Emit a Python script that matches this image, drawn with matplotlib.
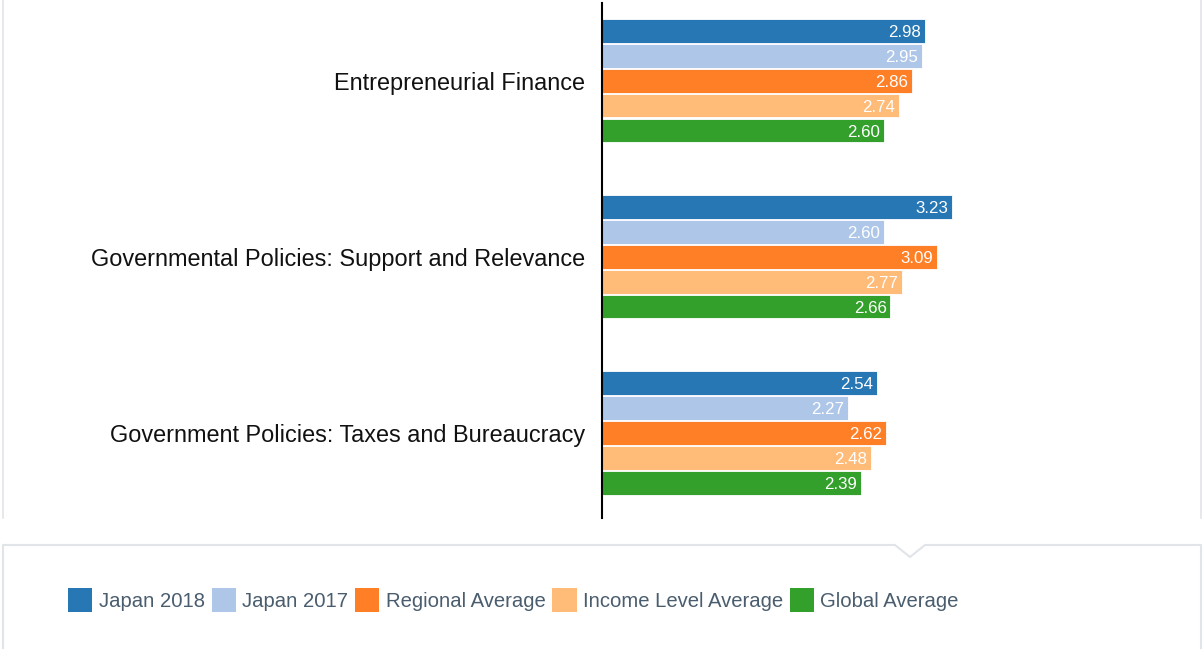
import matplotlib
matplotlib.use("Agg")
import matplotlib.pyplot as plt
from matplotlib.patches import Patch
from matplotlib.lines import Line2D

# data
categories = ["Entrepreneurial Finance",
              "Governmental Policies: Support and Relevance",
              "Government Policies: Taxes and Bureaucracy"]
series_names = ["Japan 2018", "Japan 2017", "Regional Average",
                "Income Level Average", "Global Average"]
japan_2018 = [2.98, 3.23, 2.54]
japan_2017 = [2.95, 2.60, 2.27]
regional_avg = [2.86, 3.09, 2.62]
income_avg = [2.74, 2.77, 2.48]
global_avg = [2.60, 2.66, 2.39]
colors = ["#2677b4", "#aec7e8", "#ff7f27", "#ffbb78", "#33a02c"]

plt.rcParams['font.family'] = ['Liberation Sans', 'DejaVu Sans']

W, H = 1204, 649
fig = plt.figure(figsize=(W / 100, H / 100), dpi=100)

def fx(px):
    return px / W

def fy(py):
    return 1 - py / H

# main axes: x from axis line (602) to the right edge, y from 3 to 518 px
ax = fig.add_axes([fx(602), fy(518), fx(W - 602), (518 - 3) / H])
ax.set_xlim(0, (W - 602) / 108.4)
ax.set_ylim(2.483, -0.443)

pitch = 0.142
bar_h = 0.131
all_series = [japan_2018, japan_2017, regional_avg, income_avg, global_avg]
for si, vals in enumerate(all_series):
    ys = [ci + (si - 2) * pitch for ci in range(len(categories))]
    ax.barh(ys, vals, height=bar_h, color=colors[si], edgecolor="white",
            linewidth=0.6, label=series_names[si])
    for y, v in zip(ys, vals):
        ax.text(v - 0.035, y, "%.2f" % v, color="white", fontsize=12.2,
                ha="right", va="center_baseline")

for ci, name in enumerate(categories):
    ax.text(-0.16, ci, name, fontsize=16.9, ha="right", va="center_baseline",
            color="#111111")

for s in ["top", "right", "bottom"]:
    ax.spines[s].set_visible(False)
ax.spines["left"].set_linewidth(1.5)
ax.spines["left"].set_color("black")
ax.set_xticks([])
ax.set_yticks([])

# faint panel borders
border = "#e1e4e8"
fig.add_artist(Line2D([fx(3), fx(3)], [fy(0), fy(518)], color=border, lw=1.2))
fig.add_artist(Line2D([fx(1201), fx(1201)], [fy(0), fy(518)], color=border, lw=1.2))

# legend box with notch
bx = [fx(3), fx(3), fx(895), fx(910), fx(925), fx(1201), fx(1201)]
by = [fy(H), fy(545), fy(545), fy(557), fy(545), fy(545), fy(H)]
fig.add_artist(Line2D(bx, by, color=border, lw=1.5))

handles = [Patch(facecolor=c, edgecolor="none") for c in colors]
leg = fig.legend(handles, series_names, ncol=5, loc="center left",
                 bbox_to_anchor=(fx(60), fy(600)), frameon=False,
                 fontsize=14.6, handlelength=1.2, handleheight=1.45,
                 handletextpad=0.3, columnspacing=0.35, borderaxespad=0)
for t in leg.get_texts():
    t.set_color("#4a5d6e")

fig.savefig("out.png", dpi=100)
